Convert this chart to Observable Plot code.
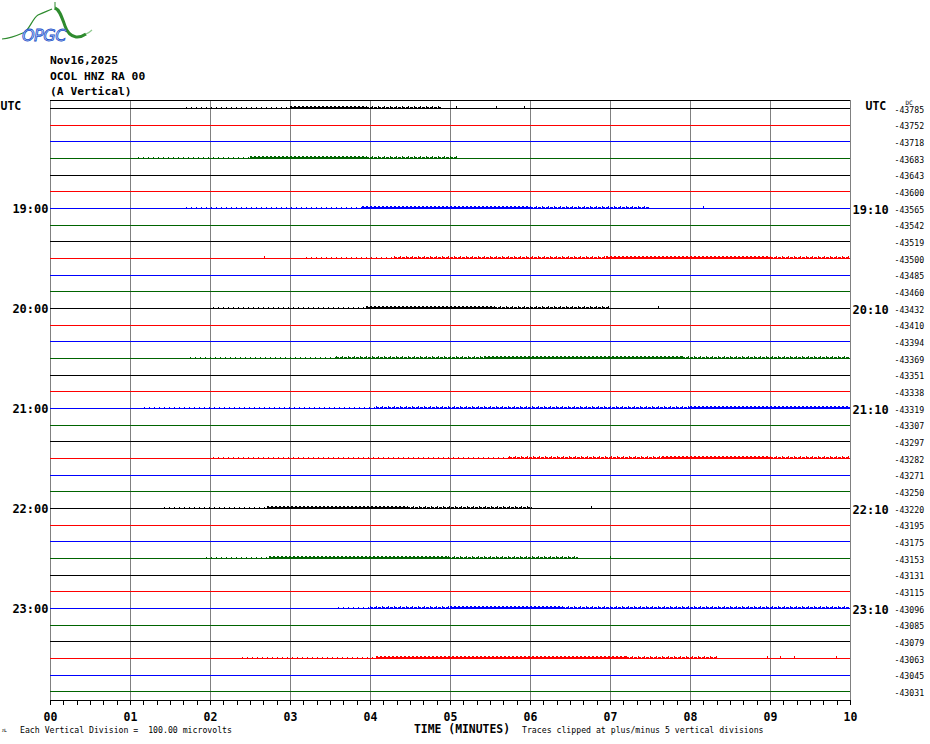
<!DOCTYPE html>
<html>
<head>
<meta charset="utf-8">
<script src="https://cdn.jsdelivr.net/npm/d3@7"></script>
<script src="https://cdn.jsdelivr.net/npm/@observablehq/plot@0.6"></script>
<style>
  body { margin: 0; background: #fff; }
  #page { position: relative; width: 930px; height: 744px; overflow: hidden; font-family: "DejaVu Sans Mono", monospace; color: #000; }
  #chart { position: absolute; left: 0; top: 0; }
  .ov { position: absolute; white-space: pre; line-height: 1; z-index: 2; }
  .hl { left: 50px; font-weight: bold; font-size: 11.3px; }
  .small { font-size: 8.2px; }
</style>
</head>
<body>
<div id="page">
  <div id="chart"></div>
  <svg class="ov" style="left:0;top:0" width="100" height="48" viewBox="0 0 100 48">
    <path d="M2 39 C12 38,18 35,25 32 C30 28,33 18,38 15 C44 12,48 11,52 9" fill="none" stroke="#2e8b2e" stroke-width="1.2"/>
    <path d="M55 2 L55 10" stroke="#2e8b2e" stroke-width="1"/>
    <path d="M55 8 C60 10,62 18,65 26 C67 32,70 36,76 37 C80 37.5,83 36,86 34" fill="none" stroke="#2e8b2e" stroke-width="3"/>
    <path d="M86 34 C88 33,90 32,92 30" fill="none" stroke="#8fc98f" stroke-width="1.2"/>
    <text x="22" y="41" font-family="DejaVu Sans, sans-serif" font-style="italic" font-size="16" fill="#cfe0ff" stroke="#2050c8" stroke-width="0.8" letter-spacing="-0.5">OPGC</text>
  </svg>
  <div class="ov hl" style="top:55.4px">Nov16,2025</div>
  <div class="ov hl" style="top:71px">OCOL HNZ RA 00</div>
  <div class="ov hl" style="top:86.4px">(A Vertical)</div>
  <div class="ov" style="left:2px;top:727px;font-size:6px">ᴊʟ</div>
  <div class="ov small" style="left:20px;top:725.5px">Each Vertical Division =  100.00 microvolts</div>
  <div class="ov" style="left:414px;top:724px;font-size:11.4px;font-weight:bold">TIME (MINUTES)</div>
  <div class="ov small" style="left:522px;top:725.5px">Traces clipped at plus/minus 5 vertical divisions</div>
</div>
<script>
// ---- data ----
const traceColors = ["#000000", "#ff0000", "#0000ff", "#006400"];
const minuteLabels = ["00","01","02","03","04","05","06","07","08","09","10"];
const leftRows = [6, 12, 18, 24, 30];
const leftLabels = ["19:00","20:00","21:00","22:00","23:00"];
const rightLabels = ["19:10","20:10","21:10","22:10","23:10"];
const dcValues = [
  -43785, -43752, -43718, -43683, -43643, -43600,
  -43565, -43542, -43519, -43500, -43485, -43460,
  -43432, -43410, -43394, -43369, -43351, -43338,
  -43319, -43307, -43297, -43282, -43271, -43250,
  -43220, -43195, -43175, -43153, -43131, -43115,
  -43096, -43085, -43079, -43063, -43045, -43031
];
// noise activity per row: [row, startMinute, endMinute]
const sparse = [[0,1.7,3.0],[3,1.1,2.5],[6,1.7,3.9],[9,3.2,4.3],[12,2.04,3.95],[15,1.75,3.57],
  [18,1.18,4.08],[21,2.04,5.74],[24,1.43,2.71],[27,1.95,2.74],[30,3.6,4.0],[33,2.4,4.08]];
const moderate = [[0,3.95,4.9],[3,3.95,5.1],[6,6.0,7.5],[9,4.3,6.95],[9,9.0,10],[12,5.55,7.0],
  [15,3.57,5.42],[15,7.9,10],[18,4.08,8.0],[21,5.74,7.65],[21,9.0,10],[24,4.46,6.03],
  [27,4.97,6.6],[30,4.0,5.0],[30,6.4,10],[33,7.2,8.35]];
const dense = [[0,3.0,3.95],[3,2.5,3.95],[6,3.9,6.0],[9,6.95,9.0],[12,3.95,5.55],[15,5.42,7.9],
  [18,8.0,10],[21,7.65,9.0],[24,2.71,4.46],[27,2.74,4.97],[30,5.0,6.4],[33,4.08,7.2]];
// isolated spikes: [row, minute]
const spikes = [[0,5.07],[0,5.58],[0,5.93],[6,8.16],[9,2.68],[12,7.6],[24,6.76],[27,7.0],
  [33,8.96],[33,9.12],[33,9.3],[33,9.82]];

// ---- derived ----
const rows = dcValues.map((_, i) => i);
const majorTicks = minuteLabels.map((_, i) => i);
const minorTicks = d3.range(0, 61).map(i => i / 6);
const yTop = -0.48, yBottom = 35.52;
const mono = "'DejaVu Sans Mono', monospace";
const rowColor = r => traceColors[r % 4];

const chart = Plot.plot({
  width: 930,
  height: 744,
  marginTop: 100,
  marginBottom: 44,
  marginLeft: 50,
  marginRight: 80,
  style: { fontFamily: mono, fontSize: "10px", background: "white", overflow: "visible" },
  x: { domain: [0, 10], label: null },
  y: { domain: [yBottom, yTop], axis: null },
  color: { type: "identity" },
  marks: [
    Plot.ruleX(majorTicks, { stroke: "#808080" }),
    Plot.ruleY(rows, { y: d => d, stroke: d => rowColor(d) }),
    Plot.ruleY(sparse, { y: d => d[0], x1: d => d[1], x2: d => d[2], dy: -1, stroke: d => rowColor(d[0]), strokeDasharray: "1,4" }),
    Plot.ruleY(moderate, { y: d => d[0], x1: d => d[1], x2: d => d[2], dy: -1, stroke: d => rowColor(d[0]), strokeDasharray: "3,1" }),
    Plot.ruleY(moderate, { y: d => d[0], x1: d => d[1], x2: d => d[2], dy: -2, stroke: d => rowColor(d[0]), strokeDasharray: "1,5" }),
    Plot.ruleY(dense, { y: d => d[0], x1: d => d[1], x2: d => d[2], dy: -1, stroke: d => rowColor(d[0]) }),
    Plot.ruleY(dense, { y: d => d[0], x1: d => d[1], x2: d => d[2], dy: -2, stroke: d => rowColor(d[0]), strokeDasharray: "2,2" }),
    Plot.ruleX(spikes, { x: d => d[1], y1: d => d[0], y2: d => d[0], insetTop: -2, stroke: d => rowColor(d[0]) }),
    Plot.ruleY([yTop, yBottom], { stroke: "black" }),
    Plot.axisX({ ticks: minorTicks, tickSize: 5, tickFormat: () => "", label: null }),
    Plot.axisX({ ticks: majorTicks, tickSize: 5, tickPadding: 7, tickFormat: d => minuteLabels[d],
      fontSize: 11.5, fontWeight: "bold", fontFamily: mono, label: null }),
    Plot.text(leftRows, { y: d => d, text: (d, i) => leftLabels[i], frameAnchor: "left", textAnchor: "end",
      dx: -2, dy: 1, fontSize: 12, fontWeight: "bold", fontFamily: mono }),
    Plot.text(rightLabels, { y: (d, i) => leftRows[i], text: d => d, frameAnchor: "right", textAnchor: "start",
      dx: 2, dy: 1.5, fontSize: 12, fontWeight: "bold", fontFamily: mono }),
    Plot.text(["UTC"], { y: [0], text: d => d, frameAnchor: "left", textAnchor: "start", dx: -50, dy: -2,
      fontSize: 11.5, fontWeight: "bold", fontFamily: mono }),
    Plot.text(["UTC"], { y: [0], text: d => d, frameAnchor: "right", textAnchor: "start", dx: 15, dy: -2,
      fontSize: 11.5, fontWeight: "bold", fontFamily: mono }),
    Plot.text(dcValues, { y: (d, i) => i, text: d => String(d), frameAnchor: "right", textAnchor: "start",
      dx: 44, dy: 1.5, fontSize: 8.2, fontFamily: mono }),
    Plot.text(["DC"], { y: [0], text: d => d, frameAnchor: "right", textAnchor: "start", dx: 55, dy: -5.5,
      fontSize: 6, fontFamily: mono })
  ]
});
chart.setAttribute("shape-rendering", "crispEdges");
document.getElementById("chart").appendChild(chart);
</script>
</body>
</html>
